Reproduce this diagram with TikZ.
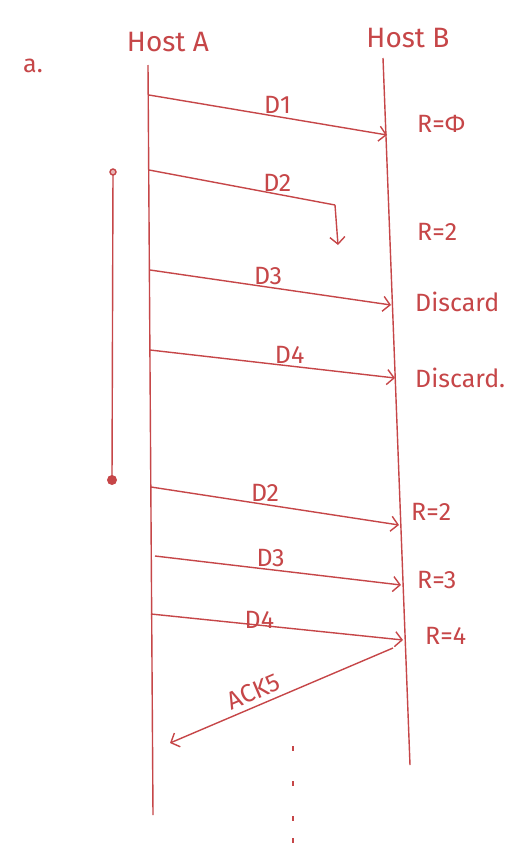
\documentclass[tikz,border=0pt]{standalone}
\usepackage{fontspec}
\newfontfamily\hand{Fira Sans}
\usetikzlibrary{arrows.meta}
\definecolor{ink}{RGB}{198,70,72}
\tikzset{
  pen/.style={draw=ink, line width=1.4pt},
  msg/.style={pen, ->},
  lbl/.style={text=ink, font=\hand\fontsize{25}{29}\selectfont, inner sep=1pt},
  hostlbl/.style={lbl, font=\hand\fontsize{28}{32}\selectfont}
}
\begin{document}
\begin{tikzpicture}[x=1pt, y=-1pt, >={Straight Barb[length=7pt,width=15pt]}]
		\fill[white] (0,0) rectangle (532,846);
		\node[lbl] (part) at (33,66) {a.};
		\node[hostlbl] (hostA) at (168,42) {Host A};
		\node[hostlbl] (hostB) at (408,38) {Host B};
		
		% lifelines
		\coordinate (Atop) at (148,65);
		\coordinate (Abot) at (153,815);
		\coordinate (Btop) at (383,58);
		\coordinate (Bbot) at (410,765);
		\draw[pen] (Atop) -- (Abot);
		\draw[pen] (Btop) -- (Bbot);
		
		% timer
		\coordinate (t1) at (113,172);
		\coordinate (t2) at (112,480);
		\draw[pen] (t1) -- (t2);
		\draw[pen, fill=ink!40] (t1) circle (3);
		\fill[ink] (t2) circle (5);
		
		% first round
		\coordinate (s1) at (149,95);
		\coordinate (r1) at (387,135);
		\draw[msg] (s1) -- node[lbl, above=1pt, pos=0.54] {D1} (r1);
		\coordinate (s2) at (149,170);
		\coordinate (k2) at (335,205);
		\coordinate (x2) at (338,245);
		\draw[pen] (s2) -- node[lbl, above=1pt, pos=0.69] {D2} (k2);
		\draw[msg] (k2) -- (x2);
		\coordinate (s3) at (150,270);
		\coordinate (r3) at (391,305);
		\draw[msg] (s3) -- node[lbl, above=1pt, pos=0.49] {D3} (r3);
		\coordinate (s4) at (150,350);
		\coordinate (r4) at (395,378);
		\draw[msg] (s4) -- node[lbl, above=1pt, pos=0.57] {D4} (r4);
		
		\node[lbl, anchor=west] (rx1) at (416,124) {R=Φ};
		\node[lbl, anchor=west] (rx2) at (416,232) {R=2};
		\node[lbl, anchor=west] (rx3) at (414,302) {Discard};
		\node[lbl, anchor=west] (rx4) at (414,378) {Discard.};
		
		% retransmission
		\coordinate (s5) at (151,487);
		\coordinate (r5) at (399,525);
		\draw[msg] (s5) -- node[lbl, above=1pt, pos=0.46] {D2} (r5);
		\coordinate (s6) at (155,556);
		\coordinate (r6) at (401,585);
		\draw[msg] (s6) -- node[lbl, above=1pt, pos=0.47] {D3} (r6);
		\coordinate (s7) at (151,614);
		\coordinate (r7) at (403,640);
		\draw[msg] (s7) -- node[lbl, above=-5pt, pos=0.43] {D4} (r7);
		
		\node[lbl, anchor=west] (rx5) at (410,512) {R=2};
		\node[lbl, anchor=west] (rx6) at (416,580) {R=3};
		\node[lbl, anchor=west] (rx7) at (424,636) {R=4};
		
		\coordinate (ack) at (393,648);
		\coordinate (ackA) at (170,743);
		\draw[msg] (ack) -- node[lbl, sloped, above=4pt, pos=0.6] {ACK5} (ackA);
		
		\foreach \y in {746,781,816,838}
			\draw[pen] (293,\y) -- ++(0,5);
	\end{tikzpicture}
\end{document}
